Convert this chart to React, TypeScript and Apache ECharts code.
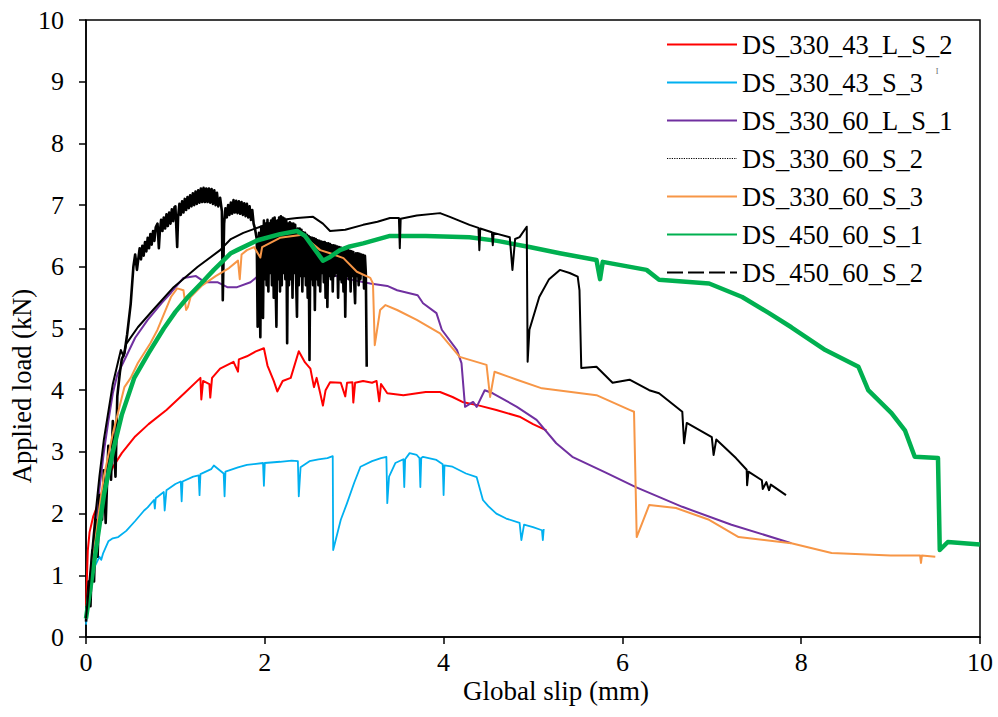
import React, { useEffect, useRef } from "react";
import * as echarts from "echarts";

const seriesNames = [
  "DS_330_43_L_S_2",
  "DS_330_43_S_3",
  "DS_330_60_L_S_1",
  "DS_330_60_S_2",
  "DS_330_60_S_3",
  "DS_450_60_S_1",
  "DS_450_60_S_2",
];

const xTicks = [0, 2, 4, 6, 8, 10];
const yTicks = [0, 1, 2, 3, 4, 5, 6, 7, 8, 9, 10];

const ds330_43_L_S_2 = [
  [0, 0.5], [0.02, 1.4], [0.04, 1.7], [0.08, 1.95], [0.12, 2.1], [0.2, 2.45], [0.3, 2.75], [0.4, 2.98],
  [0.55, 3.25], [0.7, 3.45], [0.9, 3.68], [1.1, 3.95], [1.28, 4.2], [1.29, 3.85], [1.31, 4.15], [1.38, 4.1],
  [1.39, 3.88], [1.41, 4.2], [1.5, 4.35], [1.65, 4.46], [1.7, 4.3], [1.71, 4.5], [1.8, 4.55], [1.9, 4.63],
  [1.99, 4.68], [2.03, 4.4], [2.1, 4.15], [2.14, 3.98], [2.2, 4.15], [2.29, 4.2], [2.38, 4.63], [2.45, 4.45],
  [2.51, 4.35], [2.55, 4.05], [2.58, 4.2], [2.62, 3.95], [2.65, 3.75], [2.68, 4.0], [2.73, 4.13], [2.85, 4.12],
  [2.9, 3.9], [2.92, 4.12], [2.98, 4.13], [2.99, 3.8], [3.01, 4.12], [3.1, 4.15], [3.2, 4.12], [3.25, 4.15],
  [3.28, 3.82], [3.3, 4.1], [3.37, 3.95], [3.55, 3.92], [3.8, 3.97], [3.96, 3.97], [4.1, 3.89], [4.21, 3.81],
  [4.4, 3.75], [4.59, 3.68], [4.85, 3.57], [5.0, 3.45], [5.15, 3.35],
];

const ds330_43_S_3 = [
  [0, 0.2], [0.03, 0.7], [0.06, 1.0], [0.1, 1.15], [0.15, 1.3], [0.17, 1.25], [0.19, 1.35], [0.25, 1.55],
  [0.3, 1.6], [0.36, 1.62], [0.45, 1.72], [0.55, 1.88], [0.65, 2.05], [0.69, 2.1], [0.76, 2.22], [0.77, 2.08],
  [0.78, 2.25], [0.87, 2.35], [0.88, 2.05], [0.9, 2.38], [1.0, 2.48], [1.06, 2.52], [1.07, 2.2], [1.08, 2.52],
  [1.2, 2.6], [1.26, 2.62], [1.27, 2.3], [1.28, 2.64], [1.4, 2.72], [1.43, 2.78], [1.54, 2.65], [1.55, 2.28],
  [1.56, 2.68], [1.7, 2.75], [1.8, 2.79], [1.98, 2.82], [1.99, 2.45], [2.0, 2.82], [2.17, 2.84], [2.3, 2.86],
  [2.37, 2.85], [2.38, 2.28], [2.4, 2.75], [2.5, 2.85], [2.6, 2.88], [2.7, 2.9], [2.76, 2.93], [2.765, 1.41],
  [2.85, 1.9], [2.92, 2.17], [3.0, 2.5], [3.07, 2.76], [3.2, 2.85], [3.3, 2.9], [3.36, 2.92], [3.37, 2.17],
  [3.39, 2.6], [3.46, 2.82], [3.55, 2.88], [3.56, 2.43], [3.57, 2.88], [3.62, 2.98], [3.7, 2.95], [3.73, 2.9],
  [3.74, 2.43], [3.75, 2.9], [3.77, 2.92], [3.92, 2.87], [3.99, 2.8], [4.0, 2.3], [4.01, 2.78], [4.1, 2.76],
  [4.25, 2.65], [4.37, 2.59], [4.44, 2.22], [4.5, 2.12], [4.59, 2.0], [4.7, 1.92], [4.85, 1.85], [4.87, 1.57],
  [4.9, 1.82], [5.0, 1.78], [5.1, 1.73], [5.11, 1.57], [5.12, 1.75],
];

const ds330_60_L_S_1 = [
  [0, 0.3], [0.05, 1.0], [0.1, 1.7], [0.15, 2.4], [0.2, 3.0], [0.25, 3.5], [0.3, 3.95], [0.35, 4.25],
  [0.43, 4.49], [0.55, 4.85], [0.69, 5.14], [0.85, 5.42], [0.95, 5.58], [1.09, 5.82], [1.23, 5.85], [1.3, 5.78],
  [1.36, 5.75], [1.47, 5.75], [1.58, 5.67], [1.69, 5.67], [1.84, 5.75], [1.95, 5.88], [2.1, 5.97], [2.2, 5.98],
  [2.5, 5.95], [2.8, 5.85], [3.0, 5.78], [3.18, 5.73], [3.37, 5.69], [3.48, 5.62], [3.71, 5.54], [3.77, 5.41],
  [3.92, 5.25], [3.98, 4.98], [4.15, 4.65], [4.2, 4.44], [4.24, 3.73], [4.33, 3.81], [4.37, 3.73], [4.46, 4.0],
  [4.55, 3.95], [4.82, 3.73], [5.04, 3.52], [5.26, 3.14], [5.44, 2.92], [5.82, 2.66], [6.15, 2.43], [6.44, 2.25],
  [6.67, 2.11], [7.22, 1.82], [7.89, 1.52],
];

const ds330_60_S_2 = [
  [0, 0.25], [0.03, 0.9], [0.05, 0.5], [0.07, 1.4], [0.09, 0.9], [0.11, 1.9], [0.13, 1.3], [0.15, 2.3],
  [0.18, 1.9], [0.2, 2.7], [0.22, 1.85], [0.25, 3.1], [0.28, 2.55], [0.3, 3.5], [0.33, 2.6], [0.35, 3.9],
  [0.38, 4.3], [0.4, 4.5], [0.43, 4.6], [0.46, 4.9], [0.5, 5.4], [0.53, 6.0], [0.55, 6.2], [0.57, 5.95],
  [0.6, 6.3], [0.615, 6.12], [0.63, 6.34], [0.645, 6.18], [0.66, 6.4], [0.675, 6.25], [0.69, 6.47], [0.705, 6.3],
  [0.72, 6.53], [0.735, 6.36], [0.75, 6.58], [0.765, 6.42], [0.78, 6.64], [0.8, 6.7], [0.815, 6.3], [0.825, 6.55],
  [0.84, 6.76], [0.855, 6.58], [0.87, 6.8], [0.885, 6.62], [0.9, 6.85], [0.915, 6.66], [0.93, 6.88], [0.945, 6.7],
  [0.96, 6.93], [0.975, 6.74], [0.99, 6.97], [1.0, 6.98], [1.02, 6.32], [1.03, 6.8], [1.045, 7.02], [1.06, 6.84],
  [1.075, 7.06], [1.09, 6.88], [1.105, 7.1], [1.12, 6.92], [1.135, 7.13], [1.15, 6.95], [1.165, 7.16], [1.18, 6.98],
  [1.195, 7.19], [1.21, 7.0], [1.225, 7.22], [1.24, 7.02], [1.255, 7.24], [1.27, 7.04], [1.285, 7.27], [1.3, 7.05],
  [1.315, 7.28], [1.33, 7.05], [1.345, 7.27], [1.36, 7.05], [1.375, 7.27], [1.39, 7.04], [1.405, 7.26], [1.42, 7.02],
  [1.435, 7.24], [1.45, 7.0], [1.465, 7.2], [1.48, 6.98], [1.5, 7.12], [1.52, 6.9], [1.53, 5.46], [1.545, 6.7],
  [1.56, 6.95], [1.575, 6.8], [1.59, 7.0], [1.605, 6.84], [1.62, 7.04], [1.635, 6.86], [1.65, 7.08], [1.665, 6.88],
  [1.68, 7.07], [1.695, 6.87], [1.71, 7.06], [1.725, 6.86], [1.74, 7.05], [1.755, 6.84], [1.77, 7.03], [1.785, 6.82],
  [1.8, 7.02], [1.815, 6.8], [1.83, 6.98], [1.845, 6.76], [1.86, 6.92], [1.875, 6.7], [1.89, 6.62], [1.91, 6.45],
  [1.92, 5.03], [1.935, 6.55], [1.95, 4.86], [1.96, 6.65], [1.97, 5.6], [1.98, 5.17], [1.99, 6.75], [2.0, 5.8],
  [2.01, 6.7], [2.02, 5.7], [2.03, 6.76], [2.04, 5.6], [2.05, 6.7], [2.06, 5.9], [2.07, 6.75], [2.08, 5.7],
  [2.09, 6.78], [2.1, 5.5], [2.11, 6.8], [2.12, 5.8], [2.13, 5.03], [2.14, 6.75], [2.15, 5.8], [2.16, 6.8],
  [2.17, 5.6], [2.18, 6.82], [2.19, 5.7], [2.2, 6.8], [2.21, 5.9], [2.22, 6.78], [2.23, 5.8], [2.24, 6.75],
  [2.25, 4.76], [2.26, 6.7], [2.27, 5.7], [2.28, 6.72], [2.29, 5.8], [2.3, 6.7], [2.31, 5.5], [2.32, 6.7],
  [2.33, 5.9], [2.34, 6.68], [2.35, 5.8], [2.36, 5.19], [2.37, 6.62], [2.38, 5.7], [2.39, 6.62], [2.4, 5.85],
  [2.41, 6.6], [2.42, 5.6], [2.43, 6.56], [2.44, 5.85], [2.45, 6.55], [2.46, 5.7], [2.47, 6.52], [2.48, 5.5],
  [2.49, 6.5], [2.5, 4.49], [2.51, 6.48], [2.52, 5.8], [2.53, 6.47], [2.54, 5.7], [2.55, 6.46], [2.56, 5.3],
  [2.57, 6.45], [2.58, 5.8], [2.59, 6.43], [2.6, 5.7], [2.61, 6.42], [2.62, 5.6], [2.63, 6.41], [2.64, 5.9],
  [2.65, 6.4], [2.66, 5.75], [2.67, 6.4], [2.68, 5.5], [2.69, 6.38], [2.7, 5.35], [2.71, 6.38], [2.72, 5.85],
  [2.73, 6.37], [2.74, 5.8], [2.75, 6.35], [2.76, 5.6], [2.77, 6.35], [2.78, 5.85], [2.79, 6.34], [2.8, 5.9],
  [2.81, 6.33], [2.82, 5.5], [2.83, 6.32], [2.84, 5.8], [2.85, 6.31], [2.86, 5.75], [2.87, 6.3], [2.88, 5.6],
  [2.89, 6.3], [2.9, 5.19], [2.91, 6.28], [2.92, 5.85], [2.93, 6.27], [2.94, 5.8], [2.95, 6.26], [2.96, 5.6],
  [2.97, 6.25], [2.98, 5.85], [2.99, 6.24], [3.0, 5.75], [3.01, 5.41], [3.02, 6.22], [3.03, 5.85], [3.04, 6.22],
  [3.05, 5.7], [3.06, 6.21], [3.07, 5.8], [3.08, 6.2], [3.09, 5.9], [3.1, 6.19], [3.11, 5.65], [3.12, 6.18],
  [3.13, 5.9], [3.14, 4.38],
];

const ds330_60_S_3 = [
  [0, 0.3], [0.05, 0.9], [0.1, 1.5], [0.15, 2.1], [0.2, 2.6], [0.3, 3.3], [0.43, 4.05], [0.5, 4.2],
  [0.58, 4.44], [0.72, 4.76], [0.8, 4.98], [0.95, 5.51], [1.02, 5.65], [1.09, 5.62], [1.12, 5.3], [1.14, 5.35],
  [1.17, 5.51], [1.3, 5.7], [1.45, 5.85], [1.6, 5.98], [1.7, 6.1], [1.72, 5.8], [1.74, 6.2], [1.8, 6.27],
  [1.88, 6.32], [1.95, 6.15], [1.97, 6.32], [2.17, 6.47], [2.42, 6.52], [2.51, 6.4], [2.62, 6.27], [2.73, 6.22],
  [2.88, 6.14], [3.03, 5.92], [3.18, 5.82], [3.21, 5.73], [3.23, 4.73], [3.29, 5.3], [3.35, 5.38], [3.48, 5.3],
  [3.7, 5.14], [3.96, 4.92], [4.18, 4.54], [4.48, 4.41], [4.52, 3.89], [4.57, 4.3], [4.82, 4.17], [5.1, 4.03],
  [5.71, 3.92], [6.08, 3.68], [6.13, 3.65], [6.16, 1.62], [6.3, 2.14], [6.6, 2.09], [6.97, 1.9], [7.3, 1.62],
  [7.89, 1.52], [8.34, 1.36], [9.0, 1.32], [9.33, 1.32], [9.34, 1.2], [9.35, 1.32], [9.5, 1.3],
];

const ds450_60_S_1 = [
  [0, 0.3], [0.05, 0.8], [0.1, 1.3], [0.15, 1.8], [0.2, 2.3], [0.3, 3.0], [0.4, 3.6], [0.54, 4.2],
  [0.7, 4.6], [0.87, 5.0], [1.0, 5.27], [1.14, 5.51], [1.3, 5.75], [1.43, 5.95], [1.62, 6.22], [1.69, 6.27],
  [1.92, 6.43], [2.17, 6.53], [2.36, 6.58], [2.45, 6.5], [2.51, 6.38], [2.65, 6.1], [2.73, 6.16], [2.84, 6.27],
  [2.95, 6.33], [3.1, 6.38], [3.4, 6.5], [3.8, 6.5], [4.29, 6.48], [4.6, 6.42], [4.96, 6.32], [5.3, 6.22],
  [5.71, 6.11], [5.75, 5.8], [5.78, 6.08], [6.27, 5.95], [6.41, 5.79], [6.97, 5.73], [7.34, 5.51], [7.64, 5.25],
  [7.89, 5.02], [8.27, 4.65], [8.64, 4.38], [8.75, 4.0], [9.01, 3.63], [9.16, 3.35], [9.27, 2.92], [9.53, 2.9],
  [9.55, 1.41], [9.64, 1.54], [10.0, 1.5],
];

const ds450_60_S_2 = [
  [0, 0.3], [0.05, 1.1], [0.1, 1.9], [0.15, 2.6], [0.2, 3.2], [0.3, 4.1], [0.39, 4.65], [0.42, 4.55],
  [0.45, 4.75], [0.58, 5.02], [0.75, 5.3], [0.98, 5.67], [1.25, 6.0], [1.5, 6.27], [1.62, 6.45], [1.76, 6.55],
  [1.95, 6.65], [2.17, 6.76], [2.36, 6.79], [2.54, 6.81], [2.65, 6.7], [2.73, 6.58], [2.9, 6.6], [3.1, 6.68],
  [3.26, 6.73], [3.4, 6.79], [3.5, 6.79], [3.51, 6.3], [3.52, 6.78], [3.7, 6.83], [3.96, 6.87], [4.07, 6.81],
  [4.29, 6.68], [4.39, 6.63], [4.4, 6.27], [4.41, 6.62], [4.54, 6.56], [4.55, 6.35], [4.56, 6.55], [4.74, 6.48],
  [4.77, 5.95], [4.8, 6.45], [4.85, 6.48], [4.93, 6.65], [4.94, 4.46], [4.96, 4.98], [5.07, 5.51], [5.18, 5.8],
  [5.3, 5.95], [5.41, 5.9], [5.5, 5.84], [5.52, 5.62], [5.54, 4.36], [5.71, 4.38], [5.89, 4.12], [6.08, 4.17],
  [6.3, 4.0], [6.41, 3.95], [6.67, 3.65], [6.69, 3.14], [6.72, 3.47], [7.0, 3.24], [7.02, 2.95], [7.05, 3.2],
  [7.27, 2.9], [7.39, 2.71], [7.395, 2.46], [7.41, 2.68], [7.56, 2.54], [7.57, 2.4], [7.61, 2.51], [7.64, 2.38],
  [7.66, 2.47], [7.83, 2.3],
];

const seriesData = [
  ds330_43_L_S_2,
  ds330_43_S_3,
  ds330_60_L_S_1,
  ds330_60_S_2,
  ds330_60_S_3,
  ds450_60_S_1,
  ds450_60_S_2,
];

const colors = ["#FF0000", "#00B0F0", "#7030A0", "#000000", "#F79646", "#00B050", "#000000"];
const widths = [2, 1.8, 2, 2.6, 2, 4.5, 2];
const legendTypes: any[] = ["solid", "solid", "solid", [1.2, 1.2], "solid", "solid", [16, 5, 16, 5, 16, 5, 2, 0]];
const legendWidths = [2, 2, 2, 1.2, 2, 2, 2];

const FONT = "Liberation Serif";

export default function App() {
  const ref = useRef<HTMLDivElement>(null);
  useEffect(() => {
    if (!ref.current) return;
    const chart = echarts.init(ref.current, null, { renderer: "svg" });
    chart.setOption({
      animation: false,
      backgroundColor: "#ffffff",
      textStyle: { fontFamily: FONT },
      grid: {
        left: 86,
        right: 18,
        top: 20,
        bottom: 80,
        show: true,
        borderColor: "#000",
        borderWidth: 1.5,
        backgroundColor: "transparent",
      },
      xAxis: {
        type: "value",
        min: xTicks[0],
        max: xTicks[xTicks.length - 1],
        interval: 2,
        axisLine: { show: true, onZero: false, lineStyle: { color: "#000", width: 1.5 } },
        axisTick: { show: true, length: 7, lineStyle: { color: "#000", width: 1.5 } },
        splitLine: { show: false },
        axisLabel: { color: "#000", fontFamily: FONT, fontSize: 26, margin: 12 },
      },
      yAxis: {
        type: "value",
        min: yTicks[0],
        max: yTicks[yTicks.length - 1],
        interval: 1,
        axisLine: { show: true, onZero: false, lineStyle: { color: "#000", width: 1.5 } },
        axisTick: { show: true, length: 7, lineStyle: { color: "#000", width: 1.5 } },
        splitLine: { show: false },
        axisLabel: { color: "#000", fontFamily: FONT, fontSize: 26, margin: 22 },
      },
      legend: {
        orient: "vertical",
        left: 666,
        top: 31,
        itemWidth: 70,
        itemHeight: 12,
        itemGap: 11,
        padding: 0,
        itemStyle: { opacity: 0 },
        textStyle: { color: "#000", fontFamily: FONT, fontSize: 26.5, lineHeight: 25 },
        data: seriesNames.map((n, i) => ({
          name: n,
          itemStyle: { opacity: 0 },
          lineStyle: { type: legendTypes[i], width: legendWidths[i] },
        })),
      },
      graphic: [
        {
          type: "text",
          x: 22,
          y: 386,
          rotation: Math.PI / 2,
          style: {
            text: "Applied load (kN)",
            fill: "#000",
            fontFamily: FONT,
            fontSize: 26.5,
            textAlign: "center",
            textVerticalAlign: "middle",
          },
        },
        {
          type: "text",
          x: 556,
          y: 691,
          style: {
            text: "Global slip (mm)",
            fill: "#000",
            fontFamily: FONT,
            fontSize: 27,
            textAlign: "center",
            textVerticalAlign: "middle",
          },
        },
        {
          type: "text",
          x: 937,
          y: 71,
          style: { text: "I", fill: "#666", fontFamily: FONT, fontSize: 8, textAlign: "center", textVerticalAlign: "middle" },
        },
      ],
      series: seriesNames.map((n, i) => ({
        name: n,
        type: "line",
        data: seriesData[i],
        symbol: "none",
        showSymbol: false,
        smooth: false,
        z: 2 + i,
        lineStyle: { color: colors[i], width: widths[i], join: "round" },
        itemStyle: { color: colors[i] },
      })),
    });
    return () => chart.dispose();
  }, []);
  return (
    <div
      ref={ref}
      style={{ position: "absolute", left: 0, top: 0, width: 998, height: 717 }}
    />
  );
}
